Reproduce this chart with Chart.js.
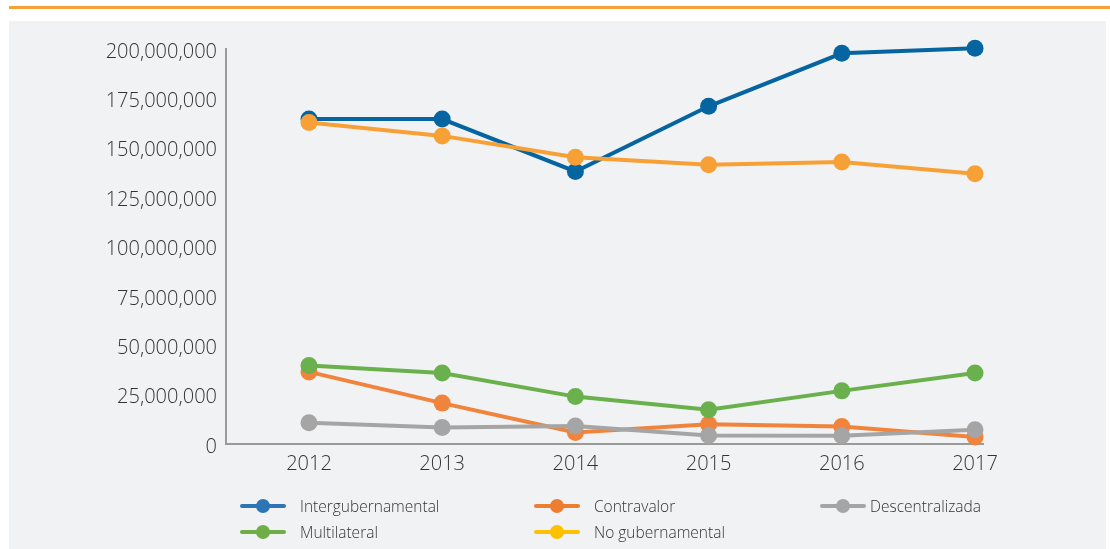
<!DOCTYPE html>
<html>
<head>
<meta charset="utf-8">
<script src="https://cdn.jsdelivr.net/npm/chart.js@4/dist/chart.umd.min.js"></script>
<style>
  html, body { margin:0; padding:0; background:#ffffff; }
  body { width:1110px; height:549px; position:relative; overflow:hidden; font-family:"Open Sans", sans-serif; }
  #topline { position:absolute; left:9px; top:6px; width:1101px; height:3px; background:#f7a035; }
  #panel { position:absolute; left:9px; top:21px; width:1097px; height:528px; background:#f1f2f4; }
  #wrap { position:absolute; left:0; top:0; width:1110px; height:549px; }
  .lg { position:absolute; height:20px; font-size:15.5px; font-weight:300; color:#333; line-height:20px; white-space:nowrap; }
  .lg .ln { position:absolute; left:0; top:8px; width:46px; height:4px; border-radius:2px; }
  .lg .dt { position:absolute; left:16px; top:3px; width:14px; height:14px; border-radius:50%; }
  .lg .tx { position:absolute; left:60px; top:0; }
</style>
</head>
<body>
<div id="topline"></div>
<div id="panel"></div>
<div id="wrap"><canvas id="c" width="1110" height="549"></canvas></div>
<div id="legend"></div>
<script>
const years = [2012, 2013, 2014, 2015, 2016, 2017];
const seriesNames = ["Intergubernamental", "Contravalor", "Descentralizada", "Multilateral", "No gubernamental"];
const intergubernamental = [164.5e6, 164.5e6, 138.0e6, 171.0e6, 197.8e6, 200.4e6];
const contravalor        = [36.5e6, 20.7e6, 5.8e6, 10.0e6, 8.8e6, 3.6e6];
const descentralizada    = [10.8e6, 8.4e6, 9.1e6, 4.3e6, 4.2e6, 7.2e6];
const multilateral       = [39.7e6, 35.9e6, 24.0e6, 17.3e6, 26.9e6, 35.9e6];
const noGubernamental    = [162.8e6, 156.0e6, 145.2e6, 141.4e6, 142.8e6, 136.8e6];
const yTicks = [0, 25e6, 50e6, 75e6, 100e6, 125e6, 150e6, 175e6, 200e6];

const lineColors   = ["#0565a1", "#f0843c", "#a5a5a5", "#6ab04c", "#f7a035"];
const legendColors = ["#2e75b6", "#ed7d31", "#a5a5a5", "#70ad47", "#ffc000"];
const seriesValues = [intergubernamental, contravalor, descentralizada, multilateral, noGubernamental];

const datasets = seriesNames.map((name, i) => ({
  label: name,
  data: years.map((y, j) => ({ x: y, y: seriesValues[i][j] })),
  borderColor: lineColors[i],
  backgroundColor: lineColors[i],
  pointBackgroundColor: lineColors[i],
  pointBorderColor: lineColors[i],
  borderWidth: 4,
  pointRadius: 8.5,
  pointBorderWidth: 0,
  pointHoverRadius: 8.5,
  tension: 0,
  clip: false,
  order: 5 - i
}));

const tickFont = { family: '"Open Sans", sans-serif', size: 20, weight: '300' };

new Chart(document.getElementById('c'), {
  type: 'line',
  data: { datasets },
  options: {
    responsive: false,
    animation: false,
    layout: { padding: { left: 0, right: 127, top: 49, bottom: 0 } },
    plugins: { legend: { display: false }, tooltip: { enabled: false } },
    scales: {
      x: {
        type: 'linear',
        min: 2011.377,
        max: 2017.06,
        grid: { display: false, drawTicks: false },
        border: { display: true, color: '#9a9a9a', width: 2 },
        afterBuildTicks: (s) => { s.ticks = years.map(v => ({ value: v })); },
        afterFit: (s) => { s.height = 105; },
        ticks: {
          padding: 8,
          color: '#333333',
          font: tickFont,
          callback: (v) => String(v),
          maxRotation: 0
        }
      },
      y: {
        min: 0,
        max: 200e6,
        grid: { display: false, drawTicks: false },
        border: { display: true, color: '#9a9a9a', width: 2 },
        afterBuildTicks: (s) => { s.ticks = yTicks.map(v => ({ value: v })); },
        afterFit: (s) => { s.width = 226; },
        ticks: {
          padding: 9,
          labelOffset: 3,
          color: '#333333',
          font: tickFont,
          callback: (v) => v.toLocaleString('en-US')
        }
      }
    }
  }
});

// legend
const legendPos = [
  { x: 240, y: 496 }, { x: 534, y: 496 }, { x: 820, y: 496 },
  { x: 240, y: 522 }, { x: 534, y: 522 }
];
const lg = document.getElementById('legend');
seriesNames.forEach((name, i) => {
  const d = document.createElement('div');
  d.className = 'lg';
  d.style.left = legendPos[i].x + 'px';
  d.style.top = legendPos[i].y + 'px';
  const ln = document.createElement('div'); ln.className = 'ln'; ln.style.background = legendColors[i];
  const dt = document.createElement('div'); dt.className = 'dt'; dt.style.background = legendColors[i];
  const tx = document.createElement('span'); tx.className = 'tx'; tx.textContent = name;
  if (i === 2) tx.style.left = '50px';
  d.appendChild(ln); d.appendChild(dt); d.appendChild(tx);
  lg.appendChild(d);
});
</script>
</body>
</html>
